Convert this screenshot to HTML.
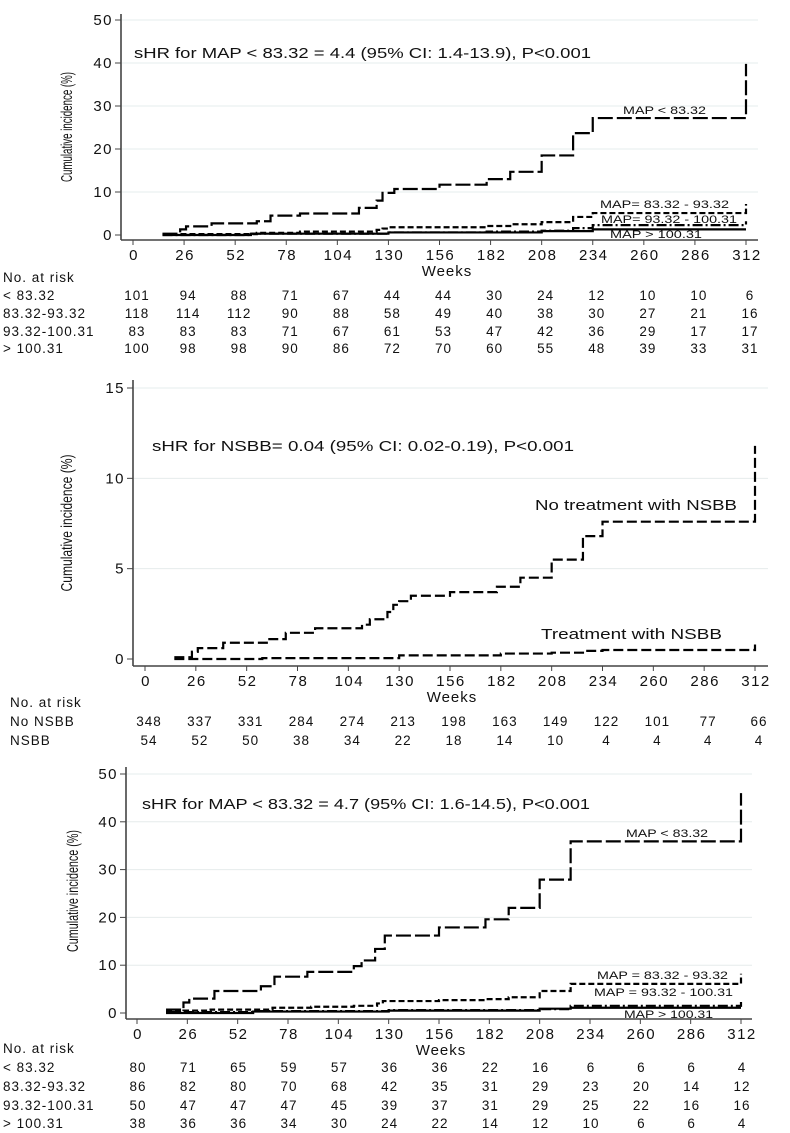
<!DOCTYPE html>
<html><head><meta charset="utf-8">
<style>
html,body{margin:0;padding:0;background:#fff;}
svg{display:block;font-family:"Liberation Sans",Arial,sans-serif;}
</style></head>
<body>
<svg id="chart" width="790" height="1133" viewBox="0 0 790 1133" xmlns="http://www.w3.org/2000/svg"></svg>
<script>
// ---------- shared data ----------
const weekTicks = [0,26,52,78,104,130,156,182,208,234,260,286,312];

// Panel A (MAP groups, cohort 1)
const aYTicks = [0,10,20,30,40,50];
const aLowW = [15,24,27,40,63,70,85,115,124,127,133,156,180,192,208,224,234,312];
const aLowV = [0.3,1.3,2,2.7,3.2,4.5,5,6.3,8,9.8,10.7,11.7,13,14.7,18.5,23.7,27.2,39.8];
const aMidW = [15,63,85,124,127,130,180,192,208,224,234,312];
const aMidV = [0.2,0.5,0.8,1.2,1.5,1.8,2.1,2.5,3.0,4.2,5.1,7.2];
const aHighW = [15,60,130,180,208,224,234,312];
const aHighV = [0,0.3,0.6,0.8,1.0,1.6,2.3,3.2];
const aTopW = [15,60,130,208,234,312];
const aTopV = [0,0.3,0.6,0.9,1.3,1.3];
const aRiskLabels = ["< 83.32","83.32-93.32","93.32-100.31","> 100.31"];
const aRisk1 = [101,94,88,71,67,44,44,30,24,12,10,10,6];
const aRisk2 = [118,114,112,90,88,58,49,40,38,30,27,21,16];
const aRisk3 = [83,83,83,71,67,61,53,47,42,36,29,17,17];
const aRisk4 = [100,98,98,90,86,72,70,60,55,48,39,33,31];

// Panel B (NSBB)
const bYTicks = [0,5,10,15];
const bNoW = [15,24,27,40,63,72,87,111,115,124,127,130,136,156,180,192,208,224,234,312];
const bNoV = [0.1,0.4,0.6,0.9,1.1,1.45,1.7,1.9,2.2,2.6,3.0,3.2,3.5,3.7,4.0,4.5,5.5,6.8,7.6,11.8];
const bYesW = [15,60,130,182,208,224,234,312];
const bYesV = [0,0.05,0.2,0.3,0.35,0.45,0.5,0.8];
const bRiskLabels = ["No NSBB","NSBB"];
const bRisk1 = [348,337,331,284,274,213,198,163,149,122,101,77,66];
const bRisk2 = [54,52,50,38,34,22,18,14,10,4,4,4,4];

// Panel C (MAP groups, cohort 2)
const cYTicks = [0,10,20,30,40,50];
const cLowW = [15,24,27,40,64,71,88,112,116,123,128,156,180,192,208,224,312];
const cLowV = [0.7,2.2,3.0,4.6,5.6,7.6,8.6,9.8,11,13.4,16.2,17.9,19.6,22,27.9,35.9,46];
const cMidW = [15,24,38,70,90,112,124,127,156,180,192,208,224,312];
const cMidV = [0.3,0.5,0.7,1.1,1.3,1.5,2.0,2.5,2.7,2.9,3.3,4.6,6.1,8.2];
const cHighW = [15,60,130,208,224,312];
const cHighV = [0.2,0.4,0.6,0.8,1.5,2.3];
const cTopW = [15,60,130,208,224,312];
const cTopV = [0,0.3,0.5,0.9,1.1,1.1];
const cRisk1 = [80,71,65,59,57,36,36,22,16,6,6,6,4];
const cRisk2 = [86,82,80,70,68,42,35,31,29,23,20,14,12];
const cRisk3 = [50,47,47,47,45,39,37,31,29,25,22,16,16];
const cRisk4 = [38,36,36,34,30,24,22,14,12,10,6,6,4];

const svg = document.getElementById('chart');
const NS = 'http://www.w3.org/2000/svg';
function mk(tag, attrs, parent) {
  const e = document.createElementNS(NS, tag);
  for (const k in attrs) e.setAttribute(k, attrs[k]);
  (parent || svg).appendChild(e);
  return e;
}
function txt(s, x, y, size, anchor, parent, ls) {
  const t = mk('text', {x: x, y: y, 'font-size': size, 'text-anchor': anchor || 'start', fill: '#111'}, parent);
  if (ls) t.setAttribute('letter-spacing', ls);
  t.textContent = s;
  return t;
}

function panel(cfg) {
  const g = mk('g', {});
  
  
  const X = w => cfg.x0 + (cfg.x1 - cfg.x0) * w / 312;
  const Y = v => cfg.y0 - (cfg.y0 - cfg.yTop) * v / cfg.yMax;
  cfg.yTicks.forEach(v => {
    if (v > 0) {
      const l = mk('line', {x1: cfg.axX + 1, x2: cfg.gridEnd, y1: Y(v), y2: Y(v), stroke: '#e6ecec', 'stroke-width': 1}, g);
      
      
    }
  });
  const ya = mk('line', {x1: cfg.axX, x2: cfg.axX, y1: cfg.axTop, y2: cfg.axY, stroke: '#444', 'stroke-width': 1.6}, g);
  
  
  cfg.yTicks.forEach(v => {
    mk('line', {x1: cfg.axX - 6, x2: cfg.axX, y1: Y(v), y2: Y(v), stroke: '#444', 'stroke-width': 1}, g);
    const t = txt(String(v), cfg.axX - 8, Y(v) + 5, 15, 'end', g, 1.5);
    
    
  });
  const xa = mk('line', {x1: cfg.axX, x2: cfg.gridEnd, y1: cfg.axY, y2: cfg.axY, stroke: '#444', 'stroke-width': 1.6}, g);
  
  
  weekTicks.forEach(w => {
    mk('line', {x1: X(w), x2: X(w), y1: cfg.axY, y2: cfg.axY + 5, stroke: '#444', 'stroke-width': 1}, g);
    const t = txt(String(w), X(w) + 1, cfg.axY + 20, 15, 'middle', g, 1.5);
    
    
  });
  const wk = txt('Weeks', cfg.weeksX, cfg.axY + 36, 15, 'middle', g, 1);
  
  
  const yt = txt('Cumulative incidence (%)', 0, 0, 16, 'middle', g);
  yt.setAttribute('textLength', cfg.yTitleLen);
  yt.setAttribute('lengthAdjust', 'spacingAndGlyphs');
  yt.setAttribute('transform', 'translate(' + cfg.yTitleX + ',' + cfg.yTitleY + ') rotate(-90)');
  
  
  const an = txt(cfg.note, cfg.noteX, cfg.noteY, 14.5, 'start', g);
  an.setAttribute('textLength', cfg.noteW);
  an.setAttribute('lengthAdjust', 'spacingAndGlyphs');
  
  
  cfg.series.forEach(s => {
    let d = 'M' + X(s.w[0]) + ',' + Y(s.v[0]);
    for (let i = 1; i < s.w.length; i++) {
      d += ' H' + X(s.w[i]) + ' V' + Y(s.v[i]);
    }
    const p = mk('path', {d: d, fill: 'none', stroke: '#000', 'stroke-width': 2.2, 'stroke-dasharray': s.dash}, g);
    
    
    const lt = txt(s.label, s.lx, s.ly, s.ls, 'start', g);
    if (s.lw) { lt.setAttribute('textLength', s.lw); lt.setAttribute('lengthAdjust', 'spacingAndGlyphs'); }
    
    
  });
  const rh = txt('No. at risk', 3 + cfg.riskShift, cfg.riskY[0], 13.5, 'start', g, 1);
  
  
  cfg.risk.forEach((row, r) => {
    const lab = txt(cfg.riskLabels[r], 3 + cfg.riskShift, cfg.riskY[r + 1], 13.5, 'start', g, 1);
    
    
    row.forEach((n, i) => {
      const t = txt(String(n), X(weekTicks[i]) + cfg.riskDx, cfg.riskY[r + 1], 13.5, 'middle', g, 1);
      
      
    });
  });
}

const LONG = '15,4', SHORT = '6,3', DASHDOT = '10,3,2,3', SOLID = 'none';

panel({
  name: 'panel-map-cohort-1', x0: 133, x1: 746, y0: 235, yTop: 20, yMax: 50, yTicks: aYTicks,
  axX: 121, axTop: 14, axY: 240, gridEnd: 758, weeksX: 447, yTitleX: 72, yTitleY: 127, yTitleLen: 110,
  note: 'sHR for MAP < 83.32 = 4.4 (95% CI: 1.4-13.9), P<0.001', noteX: 134, noteY: 58, noteW: 457,
  series: [
    {id: 'curve-map-below-83', w: aLowW, v: aLowV, dash: LONG, label: 'MAP < 83.32', lx: 623, ly: 114, ls: 11, lw: 83},
    {id: 'curve-map-83-93', w: aMidW, v: aMidV, dash: SHORT, label: 'MAP= 83.32 - 93.32', lx: 600, ly: 208, ls: 11, lw: 129},
    {id: 'curve-map-93-100', w: aHighW, v: aHighV, dash: DASHDOT, label: 'MAP= 93.32 - 100.31', lx: 601, ly: 223, ls: 11, lw: 136},
    {id: 'curve-map-above-100', w: aTopW, v: aTopV, dash: SOLID, label: 'MAP > 100.31', lx: 610, ly: 238, ls: 11, lw: 92}
  ],
  riskShift: 0, riskDx: 4, riskY: [282, 300, 318, 336, 353], riskLabels: aRiskLabels,
  risk: [aRisk1, aRisk2, aRisk3, aRisk4]
});

panel({
  name: 'panel-nsbb', x0: 145, x1: 755, y0: 659, yTop: 388, yMax: 15, yTicks: bYTicks,
  axX: 133, axTop: 380, axY: 666, gridEnd: 768, weeksX: 452, yTitleX: 72, yTitleY: 523, yTitleLen: 137,
  note: 'sHR for NSBB= 0.04 (95% CI: 0.02-0.19), P<0.001', noteX: 152, noteY: 451, noteW: 422,
  series: [
    {id: 'curve-no-nsbb', w: bNoW, v: bNoV, dash: '10,4', label: 'No treatment with NSBB', lx: 535, ly: 510, ls: 14.5, lw: 202},
    {id: 'curve-nsbb', w: bYesW, v: bYesV, dash: '10,4', label: 'Treatment with NSBB', lx: 541, ly: 639, ls: 14.5, lw: 181}
  ],
  riskShift: 7, riskDx: 4, riskY: [707, 726, 745], riskLabels: bRiskLabels,
  risk: [bRisk1, bRisk2]
});

panel({
  name: 'panel-map-cohort-2', x0: 137, x1: 741, y0: 1013, yTop: 774, yMax: 50, yTicks: cYTicks,
  axX: 126, axTop: 767, axY: 1019, gridEnd: 752, weeksX: 441, yTitleX: 78, yTitleY: 891, yTitleLen: 122,
  note: 'sHR for MAP < 83.32 = 4.7 (95% CI: 1.6-14.5), P<0.001', noteX: 142, noteY: 809, noteW: 448,
  series: [
    {id: 'curve-map-below-83-c2', w: cLowW, v: cLowV, dash: LONG, label: 'MAP < 83.32', lx: 626, ly: 837, ls: 11, lw: 82},
    {id: 'curve-map-83-93-c2', w: cMidW, v: cMidV, dash: SHORT, label: 'MAP = 83.32 - 93.32', lx: 597, ly: 979, ls: 11, lw: 131},
    {id: 'curve-map-93-100-c2', w: cHighW, v: cHighV, dash: DASHDOT, label: 'MAP = 93.32 - 100.31', lx: 594, ly: 996, ls: 11, lw: 139},
    {id: 'curve-map-above-100-c2', w: cTopW, v: cTopV, dash: SOLID, label: 'MAP > 100.31', lx: 624, ly: 1018, ls: 11, lw: 89}
  ],
  riskShift: 0, riskDx: 1, riskY: [1053, 1072, 1091, 1110, 1128], riskLabels: aRiskLabels,
  risk: [cRisk1, cRisk2, cRisk3, cRisk4]
});
</script>
</body></html>
